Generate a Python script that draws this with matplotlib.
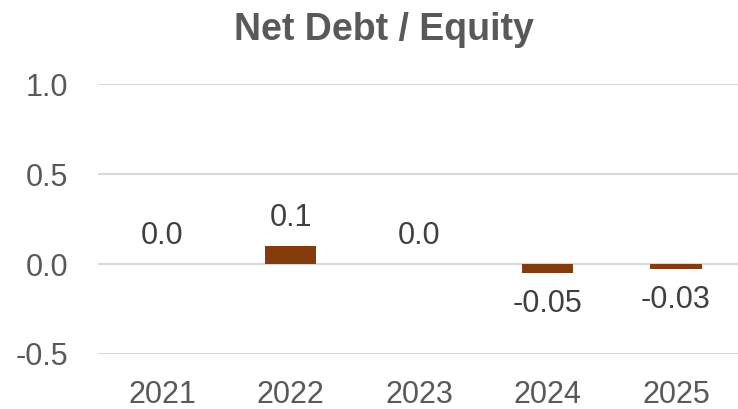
import matplotlib.pyplot as plt

# chart data
years = ['2021', '2022', '2023', '2024', '2025']
ratio = [0.0, 0.1, 0.0, -0.05, -0.03]
labels = ['0.0', '0.1', '0.0', '-0.05', '-0.03']
yticks = [-0.5, 0.0, 0.5, 1.0]

plt.rcParams['font.family'] = ['Liberation Sans', 'DejaVu Sans']

fig = plt.figure(figsize=(7.38, 4.09), dpi=100)
ax = fig.add_axes([0.1325, 0.1345, 0.8705, 0.66])

x = range(len(years))
ax.bar(x, ratio, width=0.4, color='#843C0C', linewidth=0, zorder=3)

# data labels above positive values, below negative ones
for i, (v, lab) in enumerate(zip(ratio, labels)):
    off = 20.5 if v >= 0 else -22
    ax.annotate(lab, (i, v), xytext=(0, off), textcoords='offset points',
                ha='center', va='center', fontsize=22, color='#404040')

ax.set_xlim(-0.5, len(years) - 0.5)
ax.set_ylim(-0.5, 1.0)
ax.set_yticks(yticks)
ax.set_yticklabels([f'{t:.1f}' for t in yticks])
ax.set_xticks(list(x))
ax.set_xticklabels(years)
ax.tick_params(axis='both', length=0, labelsize=22, labelcolor='#595959')
ax.tick_params(axis='y', pad=21)
ax.tick_params(axis='x', pad=19)
ax.grid(axis='y', color='#D9D9D9', linewidth=1.5, zorder=0)
ax.set_axisbelow(True)
for s in ax.spines.values():
    s.set_visible(False)

fig.text(0.520, 0.902, 'Net Debt / Equity', ha='center', va='baseline',
         fontsize=27, fontweight='bold', color='#595959')

fig.savefig('out.png', dpi=100)
